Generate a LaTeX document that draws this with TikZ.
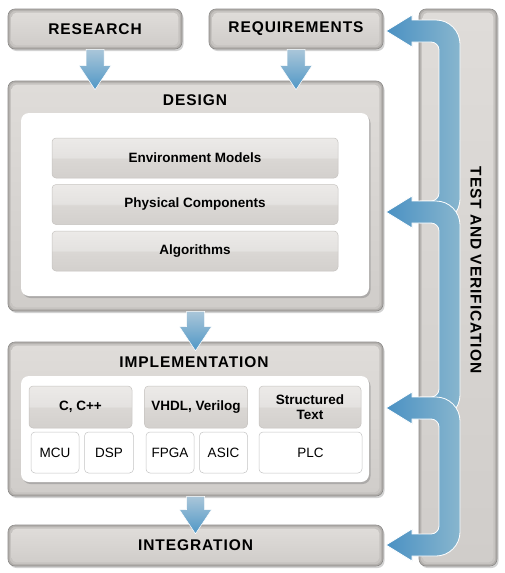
\documentclass[tikz,border=0pt]{standalone}
\usepackage{fontspec}
\setmainfont{Liberation Sans}
\newfontfamily\headfont{Liberation Sans}[LetterSpace=6]
\usetikzlibrary{calc}
\usetikzlibrary{positioning}
\usetikzlibrary{shadows}
\definecolor{stageBorder}{HTML}{8C8A88}
\definecolor{stageOuter}{HTML}{B3B0AD}
\definecolor{stageRing}{HTML}{C6C3C0}
\definecolor{stageTop}{HTML}{DFDCD9}
\definecolor{stageBottom}{HTML}{D0CDCA}
\definecolor{moduleBorder}{HTML}{C6C3C0}
\definecolor{moduleTop}{HTML}{ECEAE8}
\definecolor{moduleMidHi}{HTML}{E4E2E0}
\definecolor{moduleMidLo}{HTML}{DAD7D4}
\definecolor{moduleBottom}{HTML}{D3D0CD}
\definecolor{cellBorder}{HTML}{C4C4C4}
\definecolor{loopDark}{HTML}{4A91C3}
\definecolor{loopLight}{HTML}{88B6CE}
\definecolor{flowTop}{HTML}{AAC6D9}
\definecolor{flowBottom}{HTML}{4F97C6}
\pgfdeclareverticalshading{moduleGloss}{100bp}{color(0bp)=(moduleBottom); color(25bp)=(moduleBottom); color(49bp)=(moduleMidLo); color(51bp)=(moduleMidHi); color(75bp)=(moduleTop); color(100bp)=(moduleTop)}
\newcommand{\headtext}{\headfont\bfseries\fontsize{15.5}{18}\selectfont}
\tikzset{
	stage/.style={draw=stageBorder, line width=0.6pt, fill=stageOuter, rounded corners=7pt, inner sep=0pt,
		drop shadow={shadow xshift=1.5pt, shadow yshift=-2pt, opacity=0.35},
		path picture={
			\fill[stageRing, rounded corners=6pt]
				([shift={(1.8pt,1.8pt)}]path picture bounding box.south west) rectangle ([shift={(-1.8pt,-1.8pt)}]path picture bounding box.north east);
			\shade[top color=stageTop, bottom color=stageBottom, rounded corners=5pt]
				([shift={(3.6pt,3.6pt)}]path picture bounding box.south west) rectangle ([shift={(-3.6pt,-3.6pt)}]path picture bounding box.north east);}},
	stagetitle/.style={font=\headtext, inner sep=0pt},
	panel/.style={fill=white, rounded corners=8pt, inner sep=0pt, drop shadow={shadow xshift=1.5pt, shadow yshift=-2pt, opacity=0.45}},
	module/.style={draw=moduleBorder, line width=0.5pt, shade, shading=moduleGloss, rounded corners=4pt, inner sep=0pt, align=center, font=\bfseries\fontsize{13.5}{15}\selectfont},
	cell/.style={draw=cellBorder, line width=0.5pt, fill=white, rounded corners=4pt, inner sep=0pt, minimum height=41pt, font=\fontsize{13.5}{15}\selectfont},
	flowfill/.style={top color=flowTop, bottom color=flowBottom, draw=white, line width=0.5pt},
	loopfill/.style={left color=loopDark, right color=loopLight, draw=white, line width=0.8pt}
}
\def\lpTip{386}
\def\lpHead{412}
\def\lpL{439}
\def\lpR{460}
\def\lpStub{420}
\def\lpBand{11}
\def\lpHeadW{16}
\def\lpRo{24}
\def\lpKo{13.2}
\def\lpRi{8}
\def\lpKi{4.4}
\newcommand{\flowarrow}[2]{%
	\path (#1.south) coordinate (fa-top) (#2.north -| #1.south) coordinate (fa-end);
	\path[flowfill] ($(fa-top)+(-9,0)$) -- ($(fa-top)+(9,0)$) -- ($(fa-end)+(9,-15)$) -- ($(fa-end)+(16,-15)$)
		-- ($(fa-end)+(0,9)$) -- ($(fa-end)+(-16,-15)$) -- ($(fa-end)+(-9,-15)$) -- cycle;}
\newcommand{\loopup}[2]{%
	\path[loopfill] (\lpTip,#1) -- (\lpHead,#1-\lpHeadW) -- (\lpHead,#1-\lpBand)
		-- (\lpR-\lpRo,#1-\lpBand) .. controls (\lpR-\lpRo+\lpKo,#1-\lpBand) and (\lpR,#1-\lpBand+\lpRo-\lpKo) .. (\lpR,#1-\lpBand+\lpRo)
		-- (\lpR,#2+\lpBand-\lpRo) .. controls (\lpR,#2+\lpBand-\lpRo+\lpKo) and (\lpR-\lpRo+\lpKo,#2+\lpBand) .. (\lpR-\lpRo,#2+\lpBand)
		-- (\lpStub,#2+\lpBand) -- (\lpStub,#2-\lpBand)
		-- (\lpL-\lpRi,#2-\lpBand) .. controls (\lpL-\lpRi+\lpKi,#2-\lpBand) and (\lpL,#2-\lpBand-\lpRi+\lpKi) .. (\lpL,#2-\lpBand-\lpRi)
		-- (\lpL,#1+\lpBand+\lpRi) .. controls (\lpL,#1+\lpBand+\lpRi-\lpKi) and (\lpL-\lpRi+\lpKi,#1+\lpBand) .. (\lpL-\lpRi,#1+\lpBand)
		-- (\lpHead,#1+\lpBand) -- (\lpHead,#1+\lpHeadW) -- cycle;}
\newcommand{\loopboth}[2]{%
	\path[loopfill] (\lpTip,#1) -- (\lpHead,#1-\lpHeadW) -- (\lpHead,#1-\lpBand)
		-- (\lpR-\lpRo,#1-\lpBand) .. controls (\lpR-\lpRo+\lpKo,#1-\lpBand) and (\lpR,#1-\lpBand+\lpRo-\lpKo) .. (\lpR,#1-\lpBand+\lpRo)
		-- (\lpR,#2+\lpBand-\lpRo) .. controls (\lpR,#2+\lpBand-\lpRo+\lpKo) and (\lpR-\lpRo+\lpKo,#2+\lpBand) .. (\lpR-\lpRo,#2+\lpBand)
		-- (\lpHead,#2+\lpBand) -- (\lpHead,#2+\lpHeadW) -- (\lpTip,#2) -- (\lpHead,#2-\lpHeadW) -- (\lpHead,#2-\lpBand)
		-- (\lpL-\lpRi,#2-\lpBand) .. controls (\lpL-\lpRi+\lpKi,#2-\lpBand) and (\lpL,#2-\lpBand-\lpRi+\lpKi) .. (\lpL,#2-\lpBand-\lpRi)
		-- (\lpL,#1+\lpBand+\lpRi) .. controls (\lpL,#1+\lpBand+\lpRi-\lpKi) and (\lpL-\lpRi+\lpKi,#1+\lpBand) .. (\lpL-\lpRi,#1+\lpBand)
		-- (\lpHead,#1+\lpBand) -- (\lpHead,#1+\lpHeadW) -- cycle;}
\begin{document}
\begin{tikzpicture}[x=1pt, y=-1pt]
	\useasboundingbox[fill=white] (0,0) rectangle (505,573);

	\node[stage, minimum width=174pt, minimum height=40pt, font=\headtext] (research) at (95,29) {RESEARCH};
	\node[stage, minimum width=174pt, minimum height=40pt, font=\headtext] (requirements) at (296,29) {REQUIREMENTS};
	\node[stage, minimum width=78pt, minimum height=557pt] (test) at (458,287.5) {};
	\node[stagetitle, rotate=-90] (testtitle) at (476,270) {TEST AND VERIFICATION};

	\node[stage, minimum width=375pt, minimum height=230pt] (design) at (195.5,196) {};
	\node[stagetitle] (designtitle) at (195,100) {DESIGN};
	\node[panel, minimum width=348pt, minimum height=183pt] (designpanel) at (195,204.5) {};
	\node[module, minimum width=286pt, minimum height=40pt] (envmodels) at (195,158) {Environment Models};
	\node[module, minimum width=286pt, minimum height=40pt, below=6pt of envmodels] (physical) {Physical Components};
	\node[module, minimum width=286pt, minimum height=40pt, below=6pt of physical] (algorithms) {Algorithms};

	\node[stage, minimum width=375pt, minimum height=154pt] (implementation) at (195.5,419) {};
	\node[stagetitle] (impltitle) at (194,362) {IMPLEMENTATION};
	\node[panel, minimum width=348pt, minimum height=106pt] (implpanel) at (195,429) {};
	\node[module, minimum width=103pt, minimum height=42pt] (ccpp) at (80.5,407) {C, C++};
	\node[module, minimum width=103pt, minimum height=42pt, right=12pt of ccpp] (vhdl) {VHDL, Verilog};
	\node[module, minimum width=102pt, minimum height=42pt, right=11pt of vhdl] (sttext) {Structured\\Text};
	\node[cell, minimum width=48pt] (mcu) at (55,452.5) {MCU};
	\node[cell, minimum width=49pt, right=5pt of mcu] (dsp) {DSP};
	\node[cell, minimum width=48pt] (fpga) at (170,452.5) {FPGA};
	\node[cell, minimum width=48pt, right=5pt of fpga] (asic) {ASIC};
	\node[cell, minimum width=103pt] (plc) at (310.5,452.5) {PLC};

	\node[stage, minimum width=375pt, minimum height=41pt, font=\headtext] (integration) at (195.5,545.5) {INTEGRATION};

	\flowarrow{research}{design}
	\flowarrow{requirements}{design}
	\flowarrow{design}{implementation}
	\flowarrow{implementation}{integration}

	\loopup{31}{212}
	\loopup{212}{408}
	\loopboth{408}{545}
\end{tikzpicture}
\end{document}
